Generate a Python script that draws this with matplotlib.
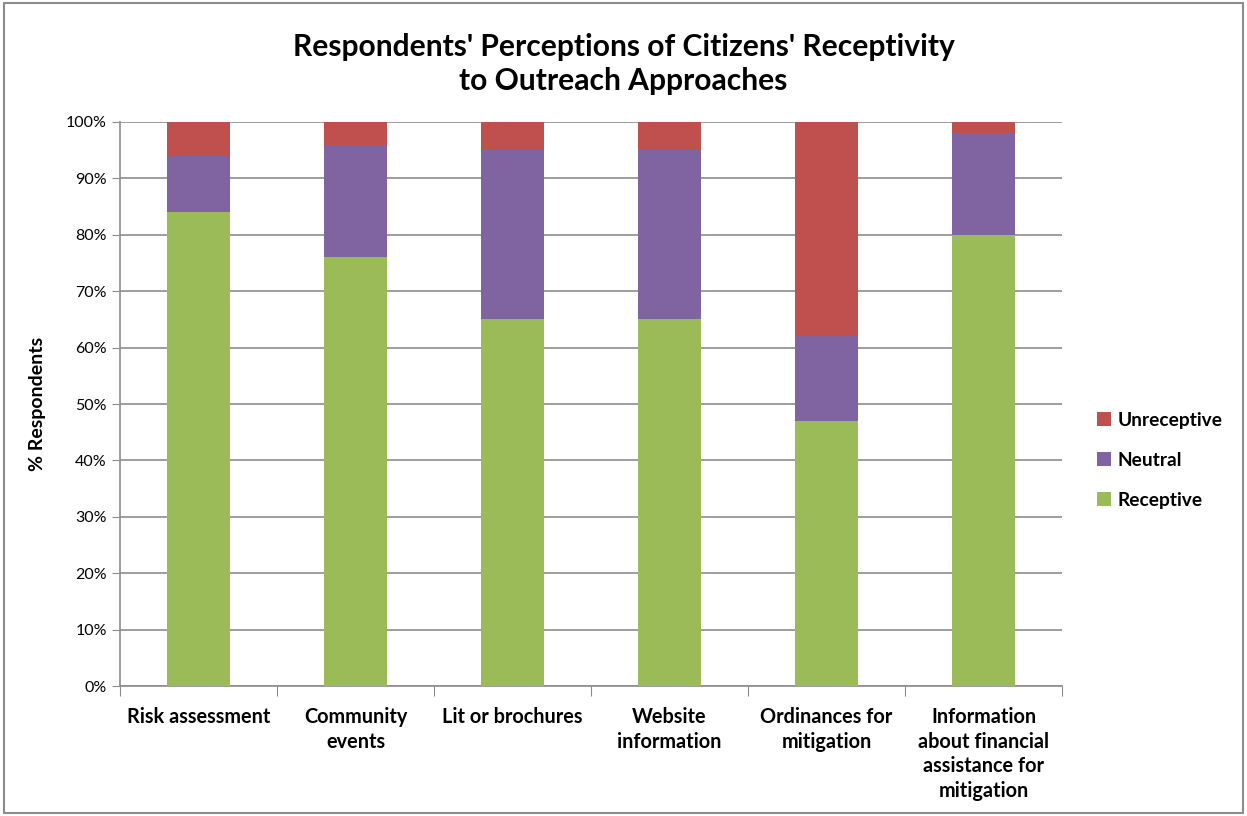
import matplotlib.pyplot as plt
import numpy as np
from matplotlib.ticker import PercentFormatter
from matplotlib.patches import Rectangle

categories = ["Risk assessment", "Community\nevents", "Lit or brochures",
              "Website\ninformation", "Ordinances for\nmitigation",
              "Information\nabout financial\nassistance for\nmitigation"]
receptive = [84, 76, 65, 65, 47, 80]
neutral = [10, 20, 30, 30, 15, 18]
unreceptive = [6, 4, 5, 5, 38, 2]

plt.rcParams['font.family'] = ['Lato', 'DejaVu Sans']

fig = plt.figure(figsize=(12.47, 8.16), dpi=100)
ax = fig.add_axes([0.0962, 0.1593, 0.7554, 0.6912])

x = np.arange(len(categories))
w = 0.4
rec = np.array(receptive)
neu = np.array(neutral)
unr = np.array(unreceptive)
ax.bar(x, rec, w, color="#9BBB59", label="Receptive", zorder=3)
ax.bar(x, neu, w, bottom=rec, color="#8064A2", label="Neutral", zorder=3)
ax.bar(x, unr, w, bottom=rec + neu, color="#C0504D", label="Unreceptive", zorder=3)

ax.set_xlim(-0.5, len(categories) - 0.5)
ax.set_ylim(0, 100)
ax.set_yticks(np.arange(0, 101, 10))
ax.yaxis.set_major_formatter(PercentFormatter(decimals=0))
ax.grid(axis="y", color="#8c8c8c", linewidth=1.2, zorder=0)
ax.tick_params(axis="y", labelsize=11.5, length=6, color="#8c8c8c")

# x ticks sit between categories, labels at the centres
ax.set_xticks(np.arange(-0.5, len(categories)), minor=False)
ax.set_xticklabels([])
ax.set_xticks(x, minor=True)
ax.set_xticklabels(categories, minor=True, fontsize=14.3, fontweight="bold",
                   va="top", linespacing=1.3)
ax.tick_params(axis="x", which="major", length=7, color="#8c8c8c")
ax.tick_params(axis="x", which="minor", length=0, pad=15)

for s in ["top", "right"]:
    ax.spines[s].set_visible(False)
ax.spines["left"].set_color("#8c8c8c")
ax.spines["bottom"].set_color("#8c8c8c")
ax.spines["left"].set_linewidth(1.2)
ax.spines["bottom"].set_linewidth(1.2)

ax.set_ylabel("% Respondents", fontsize=14, fontweight="bold", labelpad=14)

fig.text(0.5, 0.922, "Respondents' Perceptions of Citizens' Receptivity\nto Outreach Approaches",
         ha="center", va="center", fontsize=21.6, fontweight="bold", linespacing=1.25)

handles, labels = ax.get_legend_handles_labels()
fig.legend(handles[::-1], labels[::-1], loc="center left", bbox_to_anchor=(0.866, 0.436),
           frameon=False, handlelength=0.7, handleheight=0.7,
           handletextpad=0.35, labelspacing=1.2, prop={"weight": "bold", "size": 13.8})

fig.patches.append(Rectangle((0.003, 0.004), 0.994, 0.992, transform=fig.transFigure,
                             fill=False, edgecolor="#8c8c8c", linewidth=1.5))

fig.savefig("out.png", dpi=100)
